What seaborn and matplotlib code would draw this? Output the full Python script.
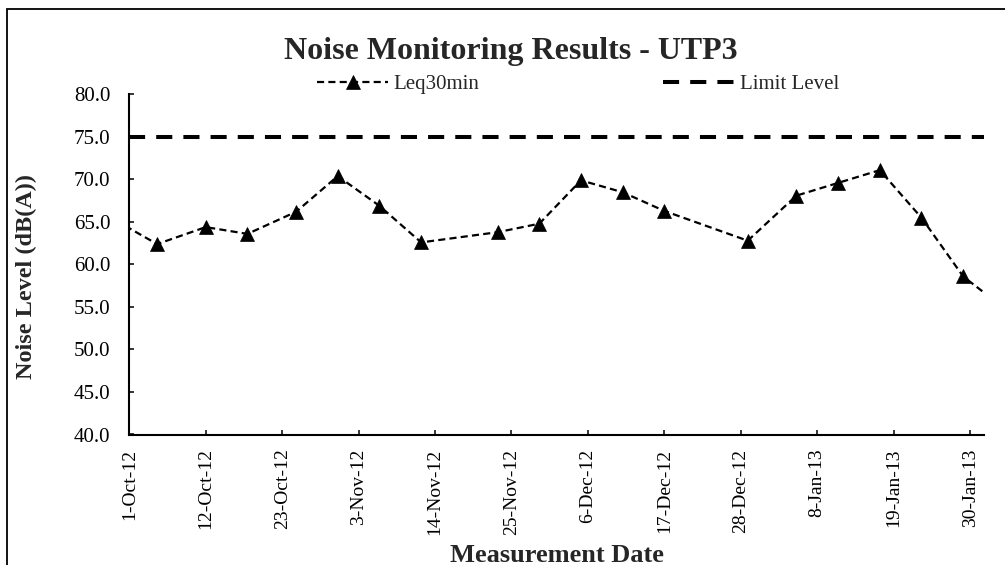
import matplotlib
matplotlib.use("Agg")
import matplotlib.pyplot as plt
from matplotlib.patches import Rectangle
import seaborn as sns
import pandas as pd

# ---- data ----
measure_dates = ["2012-09-29", "2012-10-05", "2012-10-12", "2012-10-18", "2012-10-25",
                 "2012-10-31", "2012-11-06", "2012-11-12", "2012-11-23", "2012-11-29",
                 "2012-12-05", "2012-12-11", "2012-12-17", "2012-12-29", "2013-01-05",
                 "2013-01-11", "2013-01-17", "2013-01-23", "2013-01-29", "2013-02-04"]
leq30min = [65.2, 62.4, 64.4, 63.6, 66.2, 70.4, 66.9, 62.6, 63.8, 64.8,
            69.9, 68.5, 66.3, 62.8, 68.1, 69.6, 71.1, 65.5, 58.6, 54.8]
limit_level = 75.0
tick_dates = ["2012-10-01", "2012-10-12", "2012-10-23", "2012-11-03", "2012-11-14",
              "2012-11-25", "2012-12-06", "2012-12-17", "2012-12-28", "2013-01-08",
              "2013-01-19", "2013-01-30"]
tick_labels = ["1-Oct-12", "12-Oct-12", "23-Oct-12", "3-Nov-12", "14-Nov-12",
               "25-Nov-12", "6-Dec-12", "17-Dec-12", "28-Dec-12", "8-Jan-13",
               "19-Jan-13", "30-Jan-13"]
x_range = ["2012-10-01", "2013-02-01"]
y_ticks = [40.0, 45.0, 50.0, 55.0, 60.0, 65.0, 70.0, 75.0, 80.0]

title = "Noise Monitoring Results - UTP3"
xlabel = "Measurement Date"
ylabel = "Noise Level (dB(A))"

df = pd.DataFrame({"date": pd.to_datetime(measure_dates), "leq": leq30min})

sns.set_style("white")
plt.rcParams["font.family"] = ["Liberation Serif", "DejaVu Serif"]

W, H = 1005, 565
fig = plt.figure(figsize=(W / 100, H / 100), dpi=100)
ax = fig.add_axes([129.3 / W, 1 - 434.5 / H, (984 - 129.3) / W, (434.5 - 94.5) / H])

sns.lineplot(data=df, x="date", y="leq", ax=ax, color="black", linewidth=1.6,
             linestyle=(0, (3.2, 1.9)), marker="^", markersize=10.5,
             markeredgecolor="black", markeredgewidth=0.5, label="Leq30min",
             legend=False)
ax.axhline(limit_level, color="black", linewidth=2.9, linestyle=(0, (4, 2.75)),
           label="Limit Level")

ax.set_xlim(pd.to_datetime(x_range[0]), pd.to_datetime(x_range[1]))
ax.set_ylim(y_ticks[0], y_ticks[-1])
ax.set_yticks(y_ticks)
ax.set_yticklabels([f"{v:.1f}" for v in y_ticks])
ax.set_xticks(pd.to_datetime(tick_dates))
ax.set_xticklabels(tick_labels, rotation=90, ha="center", va="top")

for s in ["top", "right"]:
    ax.spines[s].set_visible(False)
for s in ["left", "bottom"]:
    ax.spines[s].set_color("black")
    ax.spines[s].set_linewidth(1.5)

ax.tick_params(axis="y", direction="in", length=3.6, width=1.1, colors="black",
               labelsize=15, pad=13.5, left=True)
ax.tick_params(axis="x", direction="in", length=3.6, width=1.1, colors="black",
               labelsize=14, pad=10, bottom=True)
ax.set_xlabel("")
ax.set_ylabel("")
ax.grid(False)

fig.text(511 / W, 1 - 59.3 / H, title, ha="center", va="baseline",
         fontsize=23, fontweight="bold")
fig.text(556.7 / W, 1 - 561.5 / H, xlabel, ha="center", va="baseline",
         fontsize=19, fontweight="bold")
fig.text(26 / W, 1 - 276.5 / H, ylabel, ha="center", va="center", rotation=90,
         fontsize=17.5, fontweight="bold")

handles, labels = ax.get_legend_handles_labels()
fig.legend(handles, labels, loc="center", bbox_to_anchor=(578 / W, 1 - 84 / H),
           ncol=2, frameon=False, fontsize=15, handlelength=3.4,
           handletextpad=0.28, columnspacing=8.8)

fig.patches.append(Rectangle((7 / W, -10 / H), (1015 - 7) / W, (H - 9 + 10) / H,
                             transform=fig.transFigure, fill=False,
                             edgecolor="black", linewidth=1.3))

fig.savefig("out.png", dpi=100)
